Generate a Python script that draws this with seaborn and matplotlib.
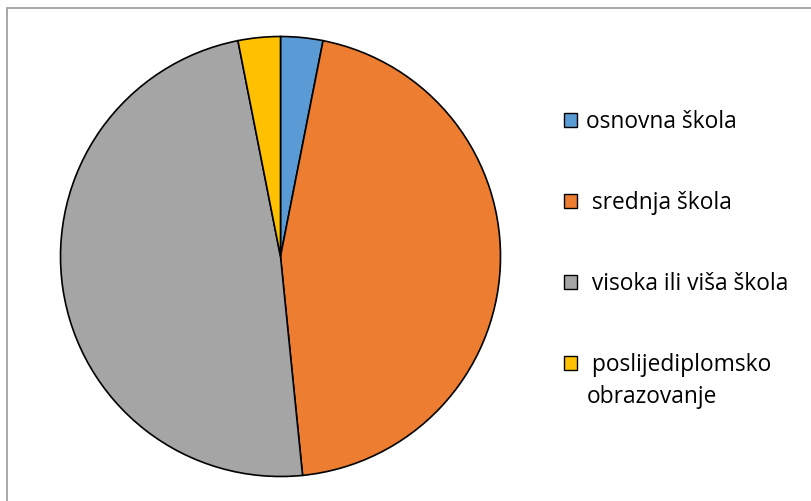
import matplotlib
matplotlib.use("Agg")
import matplotlib.pyplot as plt
import seaborn as sns
from matplotlib.patches import Rectangle, Patch

categories = ["osnovna škola", " srednja škola", " visoka ili viša škola",
              " poslijediplomsko\nobrazovanje"]
values = [3.1, 45.3, 48.5, 3.1]
colors = ["#5B9BD5", "#ED7D31", "#A5A5A5", "#FFC000"]

sns.set_theme(style="white")
plt.rcParams['font.family'] = ['Open Sans', 'DejaVu Sans']
palette = sns.color_palette(colors)

W, H = 812, 501
FS = 16.4
fig = plt.figure(figsize=(W / 100, H / 100), dpi=100)
fig.patch.set_facecolor("white")

# border
fig.add_artist(Rectangle((7 / W, -0.05), 1.2, (H - 8) / H + 0.05, transform=fig.transFigure,
                         fill=False, edgecolor="#9a9a9a", linewidth=1.2))

cx, cy, r = 280.5, H - 256.5, 220
ax = fig.add_axes([(cx - r) / W, (cy - r) / H, 2 * r / W, 2 * r / H])
wedges, _ = ax.pie(values, colors=palette, startangle=90, counterclock=False,
                   wedgeprops=dict(edgecolor="black", linewidth=1.2))
for w in wedges:
    w.set_clip_on(False)
ax.set_xlim(-1, 1)
ax.set_ylim(-1, 1)
ax.set_axis_off()

first_lines = [c.split("\n")[0] for c in categories]
handles = [Patch(facecolor=c, edgecolor="black", linewidth=1.0) for c in palette]
leg = fig.legend(handles, first_lines, loc="upper left",
                 bbox_to_anchor=(564 / W, 1 - 110 / H), frameon=False,
                 fontsize=FS, handlelength=0.58, handleheight=0.58,
                 handletextpad=0.4, labelspacing=2.5, borderpad=0, borderaxespad=0)
for t in leg.get_texts():
    t.set_color("black")

# continuation lines of multi-line labels
fig.canvas.draw()
renderer = fig.canvas.get_renderer()
texts = leg.get_texts()
x0 = texts[0].get_window_extent(renderer).x0
for cat, t in zip(categories, texts):
    rest = cat.split("\n")[1:]
    if rest:
        bb = t.get_window_extent(renderer)
        for k, line in enumerate(rest, start=1):
            fig.text(x0 / W, (bb.y0 - 32 * k) / H, line, fontsize=FS,
                     color="black", ha="left", va="bottom")

fig.savefig("out.png", dpi=100, facecolor="white")
